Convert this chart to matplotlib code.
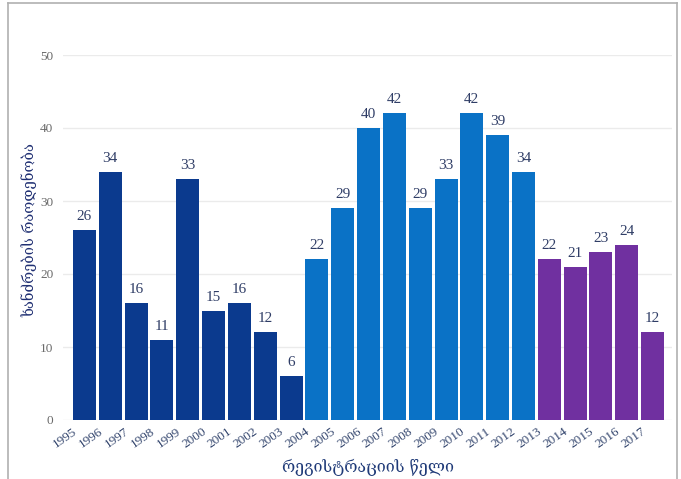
import numpy as np
import matplotlib
matplotlib.use("Agg")
import matplotlib.pyplot as plt
from matplotlib.lines import Line2D
import matplotlib.transforms as mtransforms

# Data
years = [str(y) for y in range(1995, 2018)]
counts = [26, 34, 16, 11, 33, 15, 16, 12, 6,
          22, 29, 40, 42, 29, 33, 42, 39, 34,
          22, 21, 23, 24, 12]
groups = [0] * 9 + [1] * 9 + [2] * 5
group_colors = ["#0b3a8e", "#0a72c6", "#7030a0"]

y_label = "ხანძრების რაოდენობა"
x_label = "რეგისტრაციის წელი"

num_font = ["Liberation Serif", "DejaVu Serif"]
geo_font = ["DejaVu Serif", "DejaVu Sans"]

W, H = 681, 479
fig = plt.figure(figsize=(W / 100, H / 100), dpi=100)

# Axes placed in pixel terms
left, right, bottom, top = 63, 672, H - 420, H - 55
ax = fig.add_axes([left / W, bottom / H, (right - left) / W, (top - bottom) / H])

x = np.arange(len(years))
colors = [group_colors[g] for g in groups]
bars = ax.bar(x, counts, width=0.89, color=colors, zorder=3)

ax.set_xlim(-0.83, 22.75)
ax.set_ylim(0, 50)
ax.set_yticks(np.arange(0, 51, 10))
ax.yaxis.grid(True, color="#ebebeb", linewidth=1, zorder=0)
for s in ax.spines.values():
    s.set_visible(False)
ax.tick_params(axis="y", length=0, pad=7, labelsize=9.5, labelcolor="#6a6a6a")
for lab in ax.get_yticklabels():
    lab.set_family(num_font)

# Year labels, shifted half a bar to the left like in the source
ax.set_xticks(x)
ax.set_xticklabels(years, rotation=35, ha="right", rotation_mode="anchor",
                   fontsize=9.5, color="#34466e", family=num_font)
ax.tick_params(axis="x", length=0, pad=4)
shift = mtransforms.ScaledTranslation(-12 / 100, 0, fig.dpi_scale_trans)
for lab in ax.get_xticklabels():
    lab.set_transform(lab.get_transform() + shift)

# Value labels
for xi, v in zip(x, counts):
    ax.annotate(str(v), (xi, v), xytext=(0, 5), textcoords="offset points",
                ha="center", va="bottom", fontsize=11, color="#2f3d66",
                family=num_font)

fig.text((left + right) / 2 / W, 1 - 467 / H, x_label, ha="center", va="center",
         fontsize=11.5, color="#1f3a78", family=geo_font)
fig.text(29 / W, 1 - 230 / H, y_label, ha="center", va="center", rotation=90,
         fontsize=10.5, color="#1f2f72", family=geo_font)

# Grey frame round the picture
frame = dict(color="#b0b0b0", linewidth=1.2, transform=fig.transFigure)
fig.add_artist(Line2D([8 / W, 8 / W], [0, 1 - 3 / H], **frame))
fig.add_artist(Line2D([8 / W, 677 / W], [1 - 3 / H, 1 - 3 / H], **frame))
fig.add_artist(Line2D([677 / W, 677 / W], [0, 1 - 3 / H], **frame))

fig.savefig("out.png", dpi=100)
